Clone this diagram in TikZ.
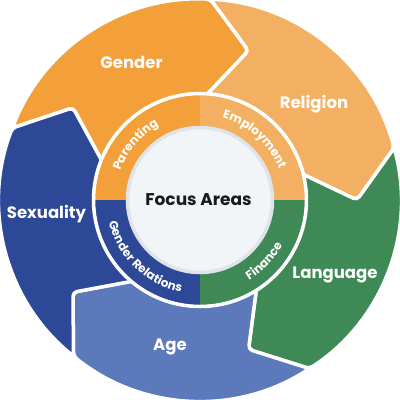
\documentclass[tikz,border=0pt]{standalone}
\usepackage{fontspec}
\setmainfont{Poppins}
\newfontfamily\ringfont[LetterSpace=5]{Poppins}
\usetikzlibrary{decorations.text}
\definecolor{cGender}{HTML}{F3A03A}
\definecolor{cReligion}{HTML}{F3B062}
\definecolor{cLanguage}{HTML}{3F8956}
\definecolor{cAge}{HTML}{5B79BB}
\definecolor{cSexuality}{HTML}{2C4896}
\definecolor{cInner}{HTML}{F2F5F8}
\definecolor{cInnerBorder}{HTML}{DFE4EA}
\definecolor{cFocus}{HTML}{1A1A1A}
\begin{document}
\begin{tikzpicture}[
  seg/.style={fill=#1, draw=white, line width=3.5pt, rounded corners=4pt, line join=round},
  lab/.style={text=white, font=\fontsize{16.5}{18}\selectfont\bfseries, inner sep=0pt, anchor=base},
  ringtext/.style={decorate, decoration={text along path, text align=center, text={|\ringfont\bfseries\fontsize{12}{14}\selectfont\color{white}|#1}}},
]
\useasboundingbox (-200pt,-200pt) rectangle (200pt,200pt);
% outer arrow segments
\foreach \t/\c in {159/cGender, 87/cReligion, 15/cLanguage, -57/cAge, -129/cSexuality}{
  \pgfmathsetmacro\l{\t-72}
  \pgfmathsetmacro\tipA{\l-15}
  \pgfmathsetmacro\notchA{\t-15}
  \path[seg=\c] (\t:201pt) arc[start angle=\t, end angle=\l, radius=201pt]
     -- (\tipA:157pt) -- (\l:104pt) arc[start angle=\l, end angle=\t, radius=104pt]
     -- (\notchA:157pt) -- cycle;
}
% inner ring quadrants
\fill[cGender] (0,0) -- (90:105pt) arc[start angle=90, end angle=180, radius=105pt] -- cycle;
\fill[cReligion] (0,0) -- (0:105pt) arc[start angle=0, end angle=90, radius=105pt] -- cycle;
\fill[cLanguage] (0,0) -- (-90:105pt) arc[start angle=-90, end angle=0, radius=105pt] -- cycle;
\fill[cSexuality] (0,0) -- (180:105pt) arc[start angle=180, end angle=270, radius=105pt] -- cycle;
\draw[white, line width=3.5pt] (0,0) circle[radius=106.5pt];
\draw[fill=cInner, draw=cInnerBorder, line width=3.5pt] (0,0) circle[radius=72.5pt];
% ring labels
\path[ringtext=Parenting] (185:85pt) arc[start angle=185, end angle=94, radius=85pt];
\path[ringtext=Employment] (95:85pt) arc[start angle=95, end angle=1, radius=85pt];
\path[ringtext=Finance] (-85:94pt) arc[start angle=-85, end angle=-2, radius=94pt];
\path[ringtext=Gender Relations] (175:94pt) arc[start angle=175, end angle=277, radius=94pt];
% labels
\node[lab] (gender) at (-68.5pt,131.7pt) {Gender};
\node[lab] (religion) at (114pt,92pt) {Religion};
\node[lab] (language) at (135pt,-78pt) {Language};
\node[lab] (age) at (-30pt,-150pt) {Age};
\node[lab] (sexuality) at (-153.5pt,-18pt) {Sexuality};
\node[lab, text=cFocus, font=\fontsize{17}{19}\selectfont\bfseries] (focus) at (-1.5pt,-5pt) {Focus Areas};
\end{tikzpicture}
\end{document}
